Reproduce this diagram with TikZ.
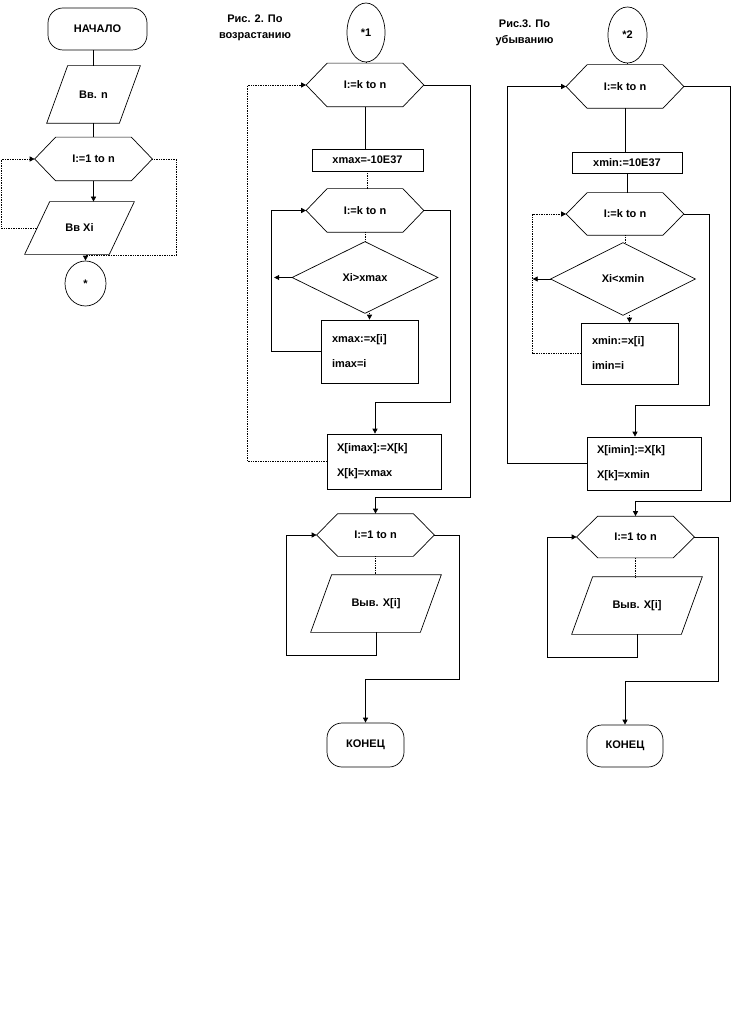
\documentclass[tikz,border=0pt]{standalone}
\usepackage{fontspec}
\setmainfont{Liberation Sans}
\usetikzlibrary{shapes.geometric,arrows.meta,calc}
\begin{document}
\begin{tikzpicture}[x=1pt,y=-1pt,
  font=\fontsize{11}{16.5}\selectfont\bfseries,
  line width=0.7pt,
  box/.style={draw=none, rectangle, inner sep=0pt},
  hexa/.style={box, minimum width=117pt, minimum height=43pt},
  para/.style={box, minimum height=57pt},
  dia/.style={box, minimum width=145pt, minimum height=71pt},
  term/.style={draw, rectangle, rounded corners=15pt, inner sep=0pt},
  proc/.style={draw, rectangle, inner sep=0pt},
  proc2/.style={draw, rectangle, align=left, inner ysep=0pt,
    font=\fontsize{11}{25}\selectfont\bfseries},
  oval/.style={draw, ellipse, inner sep=0pt},
  caption/.style={align=center},
  dot/.style={densely dotted},
  arr/.style={-{Triangle[length=5pt,width=5pt]}}
]
\useasboundingbox (0,0) rectangle (741,1016);

% ---------- left column ----------
\node[term, minimum width=99pt, minimum height=42pt] (start) at (97.5,29) {НАЧАЛО};
\node[para, minimum width=93pt] (in1) at (93.5,94.5) {Вв. n};
\node[hexa] (L1) at (93.5,159) {I:=1 to n};
\node[para, minimum width=109pt, minimum height=52pt] (in2) at (79.5,228) {Вв Xi};
\node[oval, minimum width=41pt, minimum height=45pt] (c0) at (85.5,283.5) {*};

% ---------- middle column ----------
\node[caption] (t1) at (255,28) {Рис. 2. По\\возрастанию};
\node[oval, minimum width=38pt, minimum height=59pt] (c1) at (366,32.5) {*1};
\node[hexa] (A1) at (365,85) {I:=k to n};
\node[proc, minimum width=111pt, minimum height=22pt] (r1) at (367.5,160) {xmax=-10E37};
\node[hexa] (A2) at (365,210.5) {I:=k to n};
\node[dia] (d1) at (365,277.5) {Xi>xmax};
\node[proc2, text width=75pt, inner xsep=11pt, minimum height=63pt] (r2) at (369.5,351.5) {xmax:=x[i]\\imax=i};
\node[proc2, text width=94pt, inner xsep=10pt, minimum height=55pt] (r3) at (384,461.5) {X[imax]:=X[k]\\X[k]=xmax};
\node[hexa, minimum height=42pt] (A3) at (375.5,535) {I:=1 to n};
\node[para, minimum width=130pt] (o1) at (376,603.5) {Выв. X[i]};
\node[term, minimum width=77pt, minimum height=44pt] (e1) at (365.5,745) {КОНЕЦ};

% ---------- right column ----------
\node[caption] (t2) at (524.5,33) {Рис.3. По\\убыванию};
\node[oval, minimum width=39pt, minimum height=56pt] (c2) at (627.5,35) {*2};
\node[hexa] (B1) at (625,86.5) {I:=k to n};
\node[proc, minimum width=110pt, minimum height=21pt] (r4) at (627,162.5) {xmin:=10E37};
\node[hexa, minimum height=42pt] (B2) at (625,214) {I:=k to n};
\node[dia, minimum width=144pt, minimum height=72pt] (d2) at (623,279) {Xi<xmin};
\node[proc2, text width=75pt, inner xsep=11pt, minimum height=61pt] (r5) at (629.5,353.5) {xmin:=x[i]\\imin=i};
\node[proc2, text width=94pt, inner xsep=10pt, minimum height=53pt] (r6) at (644,463.5) {X[imin]:=X[k]\\X[k]=xmin};
\node[hexa, minimum height=41pt] (B3) at (635.5,537) {I:=1 to n};
\node[para, minimum width=130pt] (o2) at (637,605.5) {Выв. X[i]};
\node[term, minimum width=76pt, minimum height=42pt] (e2) at (625,746) {КОНЕЦ};

% ---------- outlines of custom shapes ----------
\foreach \n in {L1,A1,A2,A3,B1,B2,B3}
  \draw (\n.west) -- ([xshift=21pt]\n.north west) -- ([xshift=-21pt]\n.north east)
        -- (\n.east) -- ([xshift=-21pt]\n.south east) -- ([xshift=21pt]\n.south west) -- cycle;
\foreach \n/\s in {in1/21,in2/25,o1/21,o2/21}
  \draw ([xshift=\s pt]\n.north west) -- (\n.north east)
        -- ([xshift=-\s pt]\n.south east) -- (\n.south west) -- cycle;
\foreach \n in {d1,d2}
  \draw (\n.north) -- (\n.east) -- (\n.south) -- (\n.west) -- cycle;

% ---------- left connectors ----------
\draw (in1.north) -- (in1.north |- start.south);
\draw (in1.south) -- (in1.south |- L1.north);
\draw[arr] (L1.south) -- (L1.south |- in2.north);
\draw[arr, dot] ([xshift=12.5pt]in2.west) -- ++(-36,0) |- (L1.west);
\draw[arr, dot] (L1.east) -- ++(24,0) |- ([yshift=5pt]c0.north) -- (c0.north);

% ---------- middle connectors ----------
\draw (c1.south) -- (c1.south |- A1.north);
\draw (A1.south) -- (A1.south |- r1.north);
\draw[dot] (r1.south) -- (r1.south |- A2.north);
\draw[dot] (A2.south) -- (A2.south |- d1.north);
\draw[arr] (d1.west) -- ++(-18,0);
\draw[arr, dot] (d1.south -| r2.north) -- (r2.north);
\draw[arr] (r2.west) -- ++(-49,0) |- (A2.west);
\draw[arr] (A2.east) -- ++(26,0) |- ([xshift=-9pt,yshift=31pt]r3.north) -- ([xshift=-9pt]r3.north);
\draw[arr, dot] (r3.west) -- ++(-79,0) |- (A1.west);
\draw[arr] (A1.east) -- ++(46,0) |- ([yshift=16pt]A3.north) -- (A3.north);
\draw[dot] (A3.south) -- (A3.south |- o1.north);
\draw[arr] (o1.south) -- ++(0,23) -- ++(-90,0) |- (A3.west);
\draw[arr] (A3.east) -- ++(25,0) |- ([yshift=43pt]e1.north) -- (e1.north);

% ---------- right connectors ----------
\draw[dot] (c2.south) -- (c2.south |- B1.north);
\draw (B1.south) -- (B1.south |- r4.north);
\draw (r4.south) -- (r4.south |- B2.north);
\draw[dot] (B2.south) -- (B2.south |- d2.north);
\draw[arr] (d2.west) -- ++(-18,0);
\draw[arr, dot] (d2.south -| r5.north) -- (r5.north);
\draw[arr, dot] (r5.west) -- ++(-48,0) |- (B2.west);
\draw[arr] (B2.east) -- ++(25,0) |- ([xshift=-9pt,yshift=31pt]r6.north) -- ([xshift=-9pt]r6.north);
\draw[arr] (r6.west) -- ++(-79,0) |- (B1.west);
\draw[arr] (B1.east) -- ++(46,0) |- ([yshift=15pt]B3.north) -- (B3.north);
\draw[dot] (B3.south) -- (B3.south |- o2.north);
\draw[arr] (o2.south) -- ++(0,23) -- ++(-90,0) |- (B3.west);
\draw[arr] (B3.east) -- ++(24,0) |- ([yshift=43pt]e2.north) -- (e2.north);
\end{tikzpicture}
\end{document}
